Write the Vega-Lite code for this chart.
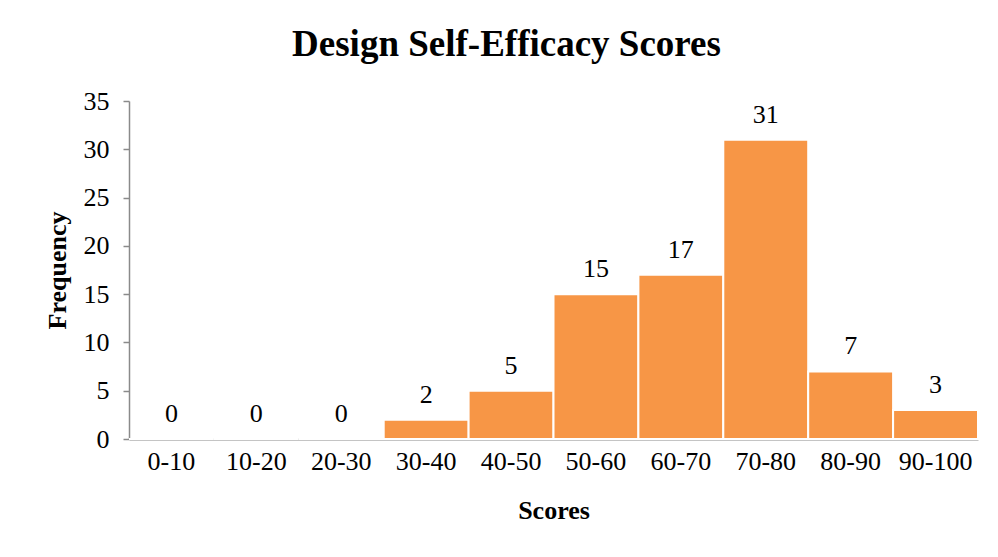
{
  "$schema": "https://vega.github.io/schema/vega-lite/v6.json",
  "width": 849,
  "height": 338,
  "autosize": {"type": "none"},
  "padding": {"left": 129, "top": 101, "right": 20, "bottom": 118},
  "background": "white",
  "config": {
    "view": {"stroke": null},
    "font": "Liberation Serif"
  },
  "title": {
    "text": "Design Self-Efficacy Scores",
    "font": "Liberation Serif",
    "fontSize": 37,
    "fontWeight": "bold",
    "color": "black",
    "anchor": "middle",
    "dx": -47,
    "offset": 24
  },
  "data": {
    "values": [
      {"range": "0-10", "freq": 0},
      {"range": "10-20", "freq": 0},
      {"range": "20-30", "freq": 0},
      {"range": "30-40", "freq": 2},
      {"range": "40-50", "freq": 5},
      {"range": "50-60", "freq": 15},
      {"range": "60-70", "freq": 17},
      {"range": "70-80", "freq": 31},
      {"range": "80-90", "freq": 7},
      {"range": "90-100", "freq": 3}
    ]
  },
  "encoding": {
    "x": {
      "field": "range",
      "type": "ordinal",
      "sort": null,
      "scale": {"paddingInner": 0, "paddingOuter": 0},
      "axis": {
        "title": "Scores",
        "titleFont": "Liberation Serif",
        "titleFontSize": 26,
        "titleFontWeight": "bold",
        "titleColor": "black",
        "titlePadding": 23,
        "labelAngle": 0,
        "labelFont": "Liberation Serif",
        "labelFontSize": 26,
        "labelColor": "black",
        "labelPadding": 9,
        "ticks": false,
        "domainColor": "#8a8a8a",
        "domainWidth": 2
      }
    },
    "y": {
      "field": "freq",
      "type": "quantitative",
      "scale": {"domain": [0, 35], "nice": false},
      "axis": {
        "title": "Frequency",
        "titleFont": "Liberation Serif",
        "titleFontSize": 26,
        "titleFontWeight": "bold",
        "titleColor": "black",
        "titlePadding": 13,
        "values": [0, 5, 10, 15, 20, 25, 30, 35],
        "labelFont": "Liberation Serif",
        "labelFontSize": 26,
        "labelColor": "black",
        "labelPadding": 14,
        "tickSize": 6,
        "tickColor": "#8a8a8a",
        "tickWidth": 1.5,
        "domainColor": "#8a8a8a",
        "domainWidth": 1.5,
        "grid": false
      }
    }
  },
  "layer": [
    {
      "mark": {"type": "bar", "color": "#F79646", "stroke": "white", "strokeWidth": 2}
    },
    {
      "mark": {"type": "text", "font": "Liberation Serif", "fontSize": 26, "color": "black", "baseline": "alphabetic", "dy": -17},
      "encoding": {"text": {"field": "freq", "type": "quantitative"}}
    }
  ]
}
